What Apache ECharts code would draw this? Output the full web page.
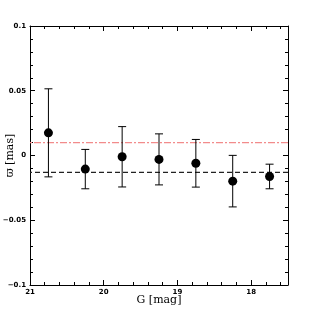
<!DOCTYPE html>
<html><head><meta charset="utf-8">
<script src="https://cdn.jsdelivr.net/npm/echarts@6/dist/echarts.min.js"></script>
<style>html,body{margin:0;padding:0;background:#fff}#c{width:314px;height:314px}</style>
</head><body><div id="c"></div>
<script>
const gMag = [20.75, 20.25, 19.75, 19.25, 18.75, 18.25, 17.75];
const parallax = [0.0175, -0.0105, -0.001, -0.003, -0.006, -0.0198, -0.0162];
const parallaxErr = [0.034, 0.0152, 0.0233, 0.0197, 0.0184, 0.0199, 0.0095];
const refRed = 0.01;
const refBlack = -0.013;
const xRange = [17.5, 21];
const xMajorTicks = [18, 19, 20, 21];
const xMinorTicks = [17.6, 17.8, 18.2, 18.4, 18.6, 18.8, 19.2, 19.4, 19.6, 19.8, 20.2, 20.4, 20.6, 20.8];
const xTitle = 'G [mag]';
const yTitle = 'ϖ [mas]';

const chart = echarts.init(document.getElementById('c'), null, {renderer: 'canvas'});
const pts = gMag.map((g, i) => [g, parallax[i]]);
const bars = gMag.map((g, i) => [g, parallax[i] - parallaxErr[i], parallax[i] + parallaxErr[i]]);
const minus = s => String(s).replace('-', '\u2212');
const tickFont = {fontSize: 7, color: '#000', fontFamily: 'DejaVu Sans', fontWeight: 'bold'};

function xAx(pos, major, labels) {
  return {
    type: 'value', min: xRange[0], max: xRange[1], inverse: true, position: pos,
    axisLine: {show: major, onZero: false, lineStyle: {color: '#000', width: 1}},
    splitLine: {show: false},
    axisTick: {show: true, inside: true, length: major ? 5 : 3, customValues: major ? xMajorTicks : xMinorTicks, lineStyle: {color: '#000'}},
    axisLabel: labels ? Object.assign({show: true, customValues: xMajorTicks, margin: 4, formatter: v => minus(v)}, tickFont) : {show: false},
    name: labels ? xTitle : '', nameLocation: 'middle', nameGap: 10, nameMoveOverlap: false,
    nameTextStyle: {fontSize: 11, fontFamily: 'DejaVu Serif', color: '#000'}
  };
}
function yAx(pos, labels) {
  return {
    type: 'value', min: -0.1, max: 0.1, interval: 0.05, position: pos,
    axisLine: {show: true, onZero: false, lineStyle: {color: '#000', width: 1}},
    splitLine: {show: false},
    axisTick: {show: true, inside: true, length: 5, lineStyle: {color: '#000'}},
    minorTick: {show: true, splitNumber: 5, length: 3, lineStyle: {color: '#000'}},
    axisLabel: labels ? Object.assign({show: true, margin: 4, formatter: v => minus(v)}, tickFont) : {show: false},
    name: labels ? yTitle : '', nameLocation: 'middle', nameGap: 14, nameMoveOverlap: false,
    nameTextStyle: {fontSize: 11, fontFamily: 'DejaVu Serif', color: '#000'}
  };
}

chart.setOption({
  animation: false,
  grid: {left: 30, right: 26, top: 26, bottom: 29, containLabel: false, outerBoundsMode: 'none'},
  xAxis: [xAx('bottom', true, true), xAx('bottom', false, false), xAx('top', true, false), xAx('top', false, false)],
  yAxis: [yAx('left', true), yAx('right', false)],
  series: [
    {
      type: 'line', xAxisIndex: 0, yAxisIndex: 0, z: 1, symbol: 'none', silent: true,
      data: [[xRange[0], refRed], [xRange[1], refRed]],
      lineStyle: {color: '#f28b8b', width: 1.3, type: [7, 2, 2, 2], opacity: 1}
    },
    {
      type: 'line', xAxisIndex: 0, yAxisIndex: 0, z: 1, symbol: 'none', silent: true,
      data: [[xRange[0], refBlack], [xRange[1], refBlack]],
      lineStyle: {color: '#222', width: 1.2, type: [5, 3], opacity: 1}
    },
    {
      type: 'custom', xAxisIndex: 0, yAxisIndex: 0, z: 2,
      data: bars,
      renderItem: function (params, api) {
        const lo = api.coord([api.value(0), api.value(1)]);
        const hi = api.coord([api.value(0), api.value(2)]);
        const w = 4;
        const st = {stroke: '#000', lineWidth: 1};
        return {type: 'group', children: [
          {type: 'line', shape: {x1: lo[0], y1: lo[1], x2: hi[0], y2: hi[1]}, style: st},
          {type: 'line', shape: {x1: lo[0] - w, y1: lo[1], x2: lo[0] + w, y2: lo[1]}, style: st},
          {type: 'line', shape: {x1: hi[0] - w, y1: hi[1], x2: hi[0] + w, y2: hi[1]}, style: st}
        ]};
      }
    },
    {
      type: 'scatter', xAxisIndex: 0, yAxisIndex: 0, z: 4,
      data: pts, symbol: 'circle', symbolSize: 9,
      itemStyle: {color: '#000', opacity: 1}
    }
  ]
});
</script></body></html>
